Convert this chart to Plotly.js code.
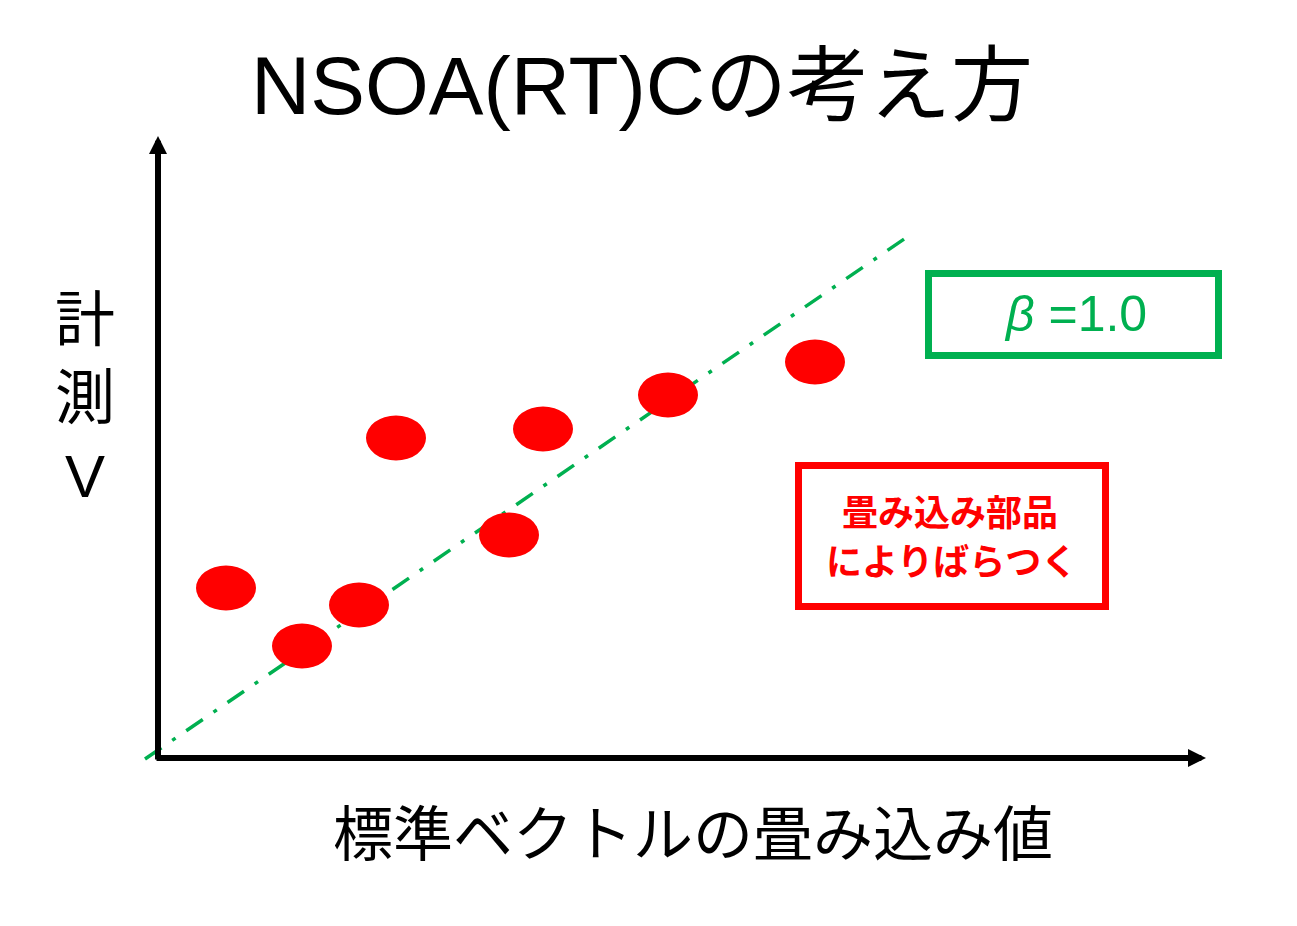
<!DOCTYPE html>
<html>
<head>
<meta charset="utf-8">
<script src="https://cdn.plot.ly/plotly-3.0.1.min.js"></script>
<style>html,body{margin:0;padding:0;background:#fff;}#chart{width:1297px;height:926px;}</style>
</head>
<body>
<div id="chart"></div>
<script>
// ---- data ----
const pointX = [0.68, 1.44, 2.01, 2.38, 3.51, 3.85, 5.10, 6.57];
const pointY = [1.70, 1.12, 1.53, 3.20, 2.23, 3.29, 3.63, 3.96];
const fitX = [-0.13, 7.52];
const fitY = [-0.01, 5.23];
const titleText = "NSOA(RT)Cの考え方";
const xLabel = "標準ベクトルの畳み込み値";
const yLabel = ["計", "測", "V"];
const betaText = "<i>β</i> =1.0";
const noteLines = ["畳み込み部品", "によりばらつく"];

const GREEN = "#00b050";
const RED = "#ff0000";
const JP = "Noto Sans CJK JP, sans-serif";
const LAT = "Liberation Sans, Noto Sans CJK JP, sans-serif";

const traces = [
  {
    x: fitX, y: fitY, type: "scatter", mode: "lines",
    line: {color: GREEN, width: 3.5, dash: "20px,13px,4px,13px"},
    hoverinfo: "skip"
  },
  {
    x: pointX, y: pointY, type: "scatter", mode: "markers",
    marker: {size: 1, color: RED, opacity: 0},
    hoverinfo: "x+y"
  }
];

const shapes = pointX.map((px, i) => ({
  type: "circle", xref: "x", yref: "y",
  xsizemode: "pixel", ysizemode: "pixel",
  xanchor: px, yanchor: pointY[i],
  x0: -30, x1: 30, y0: -22.5, y1: 22.5,
  fillcolor: RED, line: {width: 0}, layer: "above"
}));
shapes.push({
  type: "rect", xref: "x", yref: "y",
  x0: 7.705, x1: 10.605, y0: 4.025, y1: 4.845,
  line: {color: GREEN, width: 7}, fillcolor: "rgba(0,0,0,0)"
});
shapes.push({
  type: "rect", xref: "x", yref: "y",
  x0: 6.405, x1: 9.475, y0: 1.515, y1: 2.925,
  line: {color: RED, width: 7}, fillcolor: "rgba(0,0,0,0)"
});

const annotations = [
  // axes arrows
  {x: 0, y: 6.22, ax: 0, ay: -0.03, xref: "x", yref: "y", axref: "x", ayref: "y",
   text: "", showarrow: true, arrowhead: 2, arrowsize: 0.6, arrowwidth: 6, arrowcolor: "#000", standoff: 0},
  {x: 10.48, y: 0, ax: -0.03, ay: 0, xref: "x", yref: "y", axref: "x", ayref: "y",
   text: "", showarrow: true, arrowhead: 2, arrowsize: 0.6, arrowwidth: 6, arrowcolor: "#000", standoff: 0},
  // title
  {x: 4.84, y: 6.73, xref: "x", yref: "y", text: titleText, showarrow: false,
   font: {family: LAT, size: 82, color: "#000"}, xanchor: "center", yanchor: "middle"},
  // axis labels
  {x: 5.35, y: -0.71, xref: "x", yref: "y", text: xLabel, showarrow: false,
   font: {family: JP, size: 60, color: "#000"}, xanchor: "center", yanchor: "middle"},
  {x: -0.73, y: 3.60, xref: "x", yref: "y", text: yLabel.join("<br>"), showarrow: false,
   font: {family: LAT, size: 60, color: "#000"}, xanchor: "center", yanchor: "middle", align: "center"},
  // beta box text
  {x: 9.17, y: 4.44, xref: "x", yref: "y", text: betaText, showarrow: false,
   font: {family: LAT, size: 50, color: GREEN}, xanchor: "center", yanchor: "middle"},
  // note box text
  {x: 7.92, y: 2.48, xref: "x", yref: "y", text: "<b>" + noteLines[0] + "</b>", showarrow: false,
   font: {family: JP, size: 36, color: RED}, xanchor: "center", yanchor: "middle"},
  {x: 7.93, y: 1.99, xref: "x", yref: "y", text: "<b>" + noteLines[1] + "</b>", showarrow: false,
   font: {family: JP, size: 36, color: RED}, xanchor: "center", yanchor: "middle"}
];

const layout = {
  width: 1297, height: 926,
  margin: {l: 0, r: 0, t: 0, b: 0, pad: 0},
  paper_bgcolor: "#ffffff", plot_bgcolor: "#ffffff",
  showlegend: false,
  xaxis: {range: [-1.58, 11.39], visible: false, fixedrange: true},
  yaxis: {range: [-1.68, 7.58], visible: false, fixedrange: true},
  shapes: shapes,
  annotations: annotations
};

Plotly.newPlot("chart", traces, layout, {displayModeBar: false, staticPlot: true});
</script>
</body>
</html>
